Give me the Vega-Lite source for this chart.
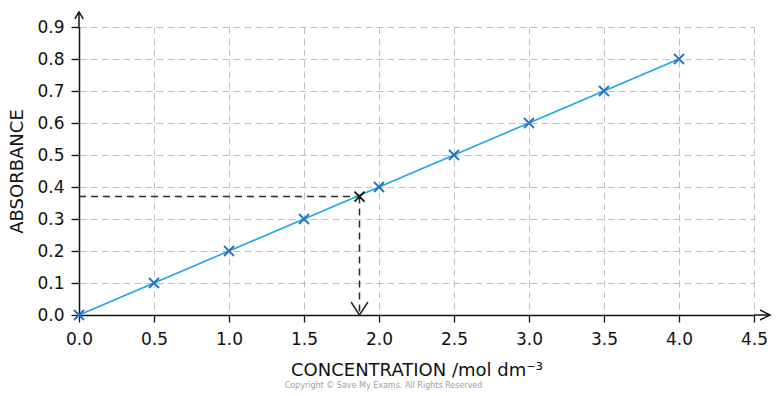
{
  "$schema": "https://vega.github.io/schema/vega-lite/v6.json",
  "width": 675,
  "height": 288,
  "autosize": {"type": "none"},
  "padding": {"left": 79, "top": 27, "right": 26, "bottom": 81},
  "background": "white",
  "config": {
    "view": {"stroke": null},
    "font": "DejaVu Sans",
    "axis": {
      "domainColor": "#111",
      "domainWidth": 1.5,
      "tickColor": "#111",
      "tickWidth": 1.3,
      "gridColor": "#c0c0c0",
      "gridDash": [7, 4],
      "gridWidth": 1,
      "labelFont": "DejaVu Sans",
      "labelFontSize": 17,
      "labelColor": "#111",
      "labelOverlap": false,
      "labelFlush": false,
      "titleFont": "DejaVu Sans",
      "titleFontSize": 18,
      "titleFontWeight": "normal",
      "titleColor": "#111"
    }
  },
  "title": {
    "text": "Copyright © Save My Exams. All Rights Reserved",
    "orient": "bottom",
    "anchor": "middle",
    "fontSize": 8,
    "fontWeight": "normal",
    "color": "#a0a0a0",
    "offset": 3,
    "dx": -33
  },
  "layer": [
    {
      "data": {"values": [{"x": 0, "y": 0.9, "x2": 0, "y2": 0.947}, {"x": 4.5, "y": 0, "x2": 4.607, "y2": 0}]},
      "mark": {"type": "rule", "color": "#111", "strokeWidth": 1.5},
      "encoding": {
        "x": {
          "field": "x", "type": "quantitative",
          "scale": {"domain": [0, 4.5], "nice": false},
          "axis": {
            "values": [0, 0.5, 1, 1.5, 2, 2.5, 3, 3.5, 4, 4.5],
            "format": ".1f",
            "tickSize": 7,
            "labelPadding": 9,
            "labelOverlap": false,
            "title": "CONCENTRATION /mol dm⁻³",
            "titlePadding": 14
          }
        },
        "y": {
          "field": "y", "type": "quantitative",
          "scale": {"domain": [0, 0.9], "nice": false},
          "axis": {
            "values": [0, 0.1, 0.2, 0.3, 0.4, 0.5, 0.6, 0.7, 0.8, 0.9],
            "format": ".1f",
            "tickSize": 8,
            "labelPadding": 7,
            "labelOverlap": false,
            "labelBound": false,
            "tickCount": 10,
            "title": "ABSORBANCE",
            "titlePadding": 10
          }
        },
        "x2": {"field": "x2"},
        "y2": {"field": "y2"}
      }
    },
    {
      "data": {"values": [{"x": 0, "y": 0.37, "x2": 1.87, "y2": 0.37}, {"x": 1.87, "y": 0.37, "x2": 1.87, "y2": 0}]},
      "mark": {"type": "rule", "color": "#2a2a2a", "strokeWidth": 1.5, "strokeDash": [7, 5]},
      "encoding": {
        "x": {"field": "x", "type": "quantitative"},
        "y": {"field": "y", "type": "quantitative"},
        "x2": {"field": "x2"},
        "y2": {"field": "y2"}
      }
    },
    {
      "data": {"values": [
        {"c": 0, "a": 0}, {"c": 0.5, "a": 0.1}, {"c": 1, "a": 0.2}, {"c": 1.5, "a": 0.3},
        {"c": 2, "a": 0.4}, {"c": 2.5, "a": 0.5}, {"c": 3, "a": 0.6}, {"c": 3.5, "a": 0.7}, {"c": 4, "a": 0.8}
      ]},
      "layer": [
        {
          "mark": {"type": "line", "color": "#1ca7e4", "strokeWidth": 1.6},
          "encoding": {
            "x": {"field": "c", "type": "quantitative"},
            "y": {"field": "a", "type": "quantitative"}
          }
        },
        {
          "mark": {"type": "point", "shape": "M-1,-1L1,1M1,-1L-1,1", "size": 100, "filled": false, "color": "#2271c4", "strokeWidth": 1.8, "opacity": 1},
          "encoding": {
            "x": {"field": "c", "type": "quantitative"},
            "y": {"field": "a", "type": "quantitative"}
          }
        }
      ]
    },
    {
      "data": {"values": [{"x": 1.87, "y": 0.37}]},
      "mark": {"type": "point", "shape": "M-1,-1L1,1M1,-1L-1,1", "size": 100, "filled": false, "color": "#111", "strokeWidth": 1.8, "opacity": 1},
      "encoding": {
        "x": {"field": "x", "type": "quantitative"},
        "y": {"field": "y", "type": "quantitative"}
      }
    },
    {
      "data": {"values": [{"x": 1.87, "y": 0}]},
      "mark": {"type": "point", "shape": "M-0.65,-1L0,0L0.65,-1", "size": 676, "filled": false, "color": "#2a2a2a", "strokeWidth": 1.5, "opacity": 1},
      "encoding": {
        "x": {"field": "x", "type": "quantitative"},
        "y": {"field": "y", "type": "quantitative"}
      }
    },
    {
      "data": {"values": [{"x": 0, "y": 0.947}]},
      "mark": {"type": "point", "shape": "M-0.6,1L0,0L0.6,1", "size": 196, "filled": false, "color": "#111", "strokeWidth": 1.5, "opacity": 1},
      "encoding": {
        "x": {"field": "x", "type": "quantitative"},
        "y": {"field": "y", "type": "quantitative"}
      }
    },
    {
      "data": {"values": [{"x": 4.607, "y": 0}]},
      "mark": {"type": "point", "shape": "M-1,-0.5L0,0L-1,0.5", "size": 400, "filled": false, "color": "#111", "strokeWidth": 1.5, "opacity": 1},
      "encoding": {
        "x": {"field": "x", "type": "quantitative"},
        "y": {"field": "y", "type": "quantitative"}
      }
    }
  ]
}
